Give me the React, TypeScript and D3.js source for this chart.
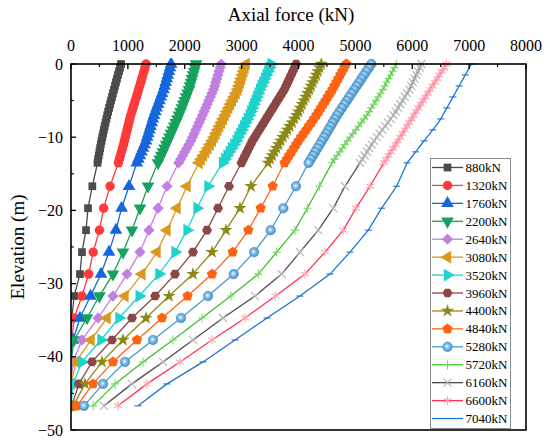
import React, { useRef, useEffect } from "react";
import * as d3 from "d3";

// legend labels (applied load at pile head)
const loadLabels = [
  "880kN", "1320kN", "1760kN", "2200kN", "2640kN", "3080kN", "3520kN", "3960kN",
  "4400kN", "4840kN", "5280kN", "5720kN", "6160kN", "6600kN", "7040kN",
];

const xTicks = [0, 1000, 2000, 3000, 4000, 5000, 6000, 7000, 8000];
const yTicks = [0, -10, -20, -30, -40, -50];

// elevations (m): dense nodes near the head, then every 3 m
const denseDepth = [
  0, -0.5, -1, -1.5, -2, -2.5, -3, -3.5, -4, -4.5, -5, -5.5, -6, -6.5,
  -7, -7.5, -8, -8.5, -9, -9.5, -10, -10.5, -11, -11.5, -12, -12.5, -13, -13.5,
];
const sparseDepth = [-16.7, -19.7, -22.7, -25.7, -28.7, -31.7, -34.7, -37.7, -40.7, -43.7, -46.7];

// axial force (kN) at each elevation, dense part then sparse part
const f880 = [
  880, 862, 844, 826, 808, 790, 773, 756, 738, 721, 704, 687, 670, 653,
  637, 622, 607, 592, 578, 564, 550, 537, 524, 512, 500, 488, 477, 466,
  375, 299, 264, 193, 158, 55, 15, 0, 0, 0, 0,
];
const f1320 = [
  1320, 1301, 1283, 1264, 1245, 1227, 1208, 1189, 1170, 1150, 1130, 1110, 1090, 1070,
  1050, 1034, 1018, 1002, 986, 970, 955, 940, 923, 905, 887, 869, 851, 833,
  686, 575, 500, 390, 310, 193, 55, 15, 0, 0, 0,
];
const f1760 = [
  1760, 1741, 1722, 1703, 1684, 1665, 1646, 1627, 1603, 1579, 1555, 1531, 1507, 1483,
  1459, 1439, 1419, 1399, 1379, 1359, 1339, 1319, 1292, 1265, 1238, 1211, 1184, 1157,
  1020, 890, 790, 668, 527, 343, 158, 35, 0, 0, 0,
];
const f2200 = [
  2200, 2182, 2164, 2146, 2128, 2110, 2092, 2074, 2049, 2024, 1999, 1974, 1949, 1924,
  1899, 1871, 1843, 1815, 1787, 1759, 1731, 1703, 1674, 1645, 1616, 1587, 1558, 1529,
  1354, 1213, 1072, 914, 738, 500, 281, 53, 0, 0, 0,
];
const f2640 = [
  2640, 2621, 2602, 2583, 2564, 2545, 2526, 2507, 2479, 2451, 2423, 2395, 2367, 2339,
  2311, 2282, 2253, 2224, 2195, 2166, 2137, 2108, 2072, 2036, 2000, 1964, 1928, 1892,
  1688, 1530, 1371, 1213, 985, 738, 475, 193, 35, 0, 0,
];
const f3080 = [
  3080, 3059, 3038, 3017, 2996, 2975, 2954, 2933, 2901, 2869, 2837, 2805, 2773, 2741,
  2709, 2677, 2645, 2613, 2581, 2549, 2517, 2485, 2446, 2407, 2368, 2329, 2290, 2251,
  2040, 1864, 1688, 1512, 1248, 949, 633, 352, 88, 0, 0,
];
const f3520 = [
  3520, 3491, 3462, 3433, 3404, 3375, 3346, 3317, 3291, 3265, 3239, 3213, 3187, 3161,
  3135, 3102, 3069, 3036, 3003, 2970, 2937, 2904, 2864, 2824, 2784, 2744, 2704, 2664,
  2409, 2215, 2040, 1829, 1547, 1200, 844, 527, 193, 35, 0,
];
const f3960 = [
  3960, 3930, 3900, 3870, 3840, 3810, 3780, 3750, 3710, 3670, 3630, 3590, 3550, 3510,
  3470, 3430, 3390, 3350, 3310, 3270, 3230, 3190, 3158, 3126, 3094, 3062, 3030, 2998,
  2778, 2585, 2391, 2145, 1829, 1480, 1072, 721, 369, 141, 10,
];
const f4400 = [
  4400, 4370, 4340, 4310, 4280, 4250, 4220, 4190, 4158, 4126, 4094, 4062, 4030, 3998,
  3966, 3926, 3886, 3846, 3806, 3766, 3726, 3686, 3649, 3612, 3575, 3538, 3501, 3464,
  3165, 2971, 2725, 2479, 2145, 1723, 1319, 914, 545, 246, 40,
];
const f4840 = [
  4840, 4805, 4770, 4735, 4700, 4665, 4630, 4595, 4555, 4515, 4475, 4435, 4395, 4355,
  4315, 4270, 4225, 4180, 4135, 4090, 4045, 4000, 3959, 3918, 3877, 3836, 3795, 3754,
  3546, 3335, 3118, 2843, 2479, 2050, 1600, 1160, 738, 387, 105,
];
const f5280 = [
  5280, 5237, 5194, 5151, 5108, 5065, 5022, 4979, 4936, 4893, 4850, 4807, 4764, 4721,
  4678, 4640, 4602, 4564, 4526, 4488, 4450, 4412, 4373, 4334, 4295, 4256, 4217, 4178,
  3956, 3733, 3511, 3218, 2860, 2409, 1934, 1442, 949, 563, 228,
];
const f5720 = [
  5720, 5686, 5652, 5618, 5584, 5550, 5516, 5482, 5442, 5402, 5362, 5322, 5282, 5242,
  5202, 5153, 5104, 5055, 5006, 4957, 4908, 4859, 4814, 4769, 4724, 4679, 4634, 4589,
  4366, 4155, 3938, 3617, 3293, 2810, 2303, 1793, 1266, 774, 387,
];
const f6160 = [
  6160, 6130, 6100, 6070, 6040, 6010, 5980, 5950, 5910, 5870, 5830, 5790, 5750, 5710,
  5670, 5621, 5572, 5523, 5474, 5425, 5376, 5327, 5286, 5245, 5204, 5163, 5122, 5081,
  4818, 4612, 4348, 4026, 3704, 3235, 2672, 2145, 1617, 1072, 580,
];
const f6600 = [
  6600, 6559, 6518, 6477, 6436, 6395, 6354, 6313, 6272, 6231, 6190, 6149, 6108, 6067,
  6026, 5986, 5946, 5906, 5866, 5826, 5786, 5746, 5705, 5664, 5623, 5582, 5541, 5500,
  5257, 5011, 4788, 4466, 4114, 3595, 3059, 2479, 1916, 1336, 826,
];
const f7040 = [
  7040, 7004, 6968, 6932, 6896, 6860, 6824, 6788, 6752, 6716, 6680, 6644, 6608, 6572,
  6536, 6500, 6460, 6410, 6360, 6310, 6260, 6210, 6160, 6110, 6060, 6010, 5960, 5910,
  5726, 5462, 5228, 4905, 4554, 4026, 3446, 2884, 2321, 1688, 1178,
];

const seriesForces = [
  f880, f1320, f1760, f2200, f2640, f3080, f3520, f3960,
  f4400, f4840, f5280, f5720, f6160, f6600, f7040,
];

// Origin-like colours and marker shapes
const styles = [
  { line: "#4b4b4b", mark: "#4b4b4b", shape: "square" },
  { line: "#ff3a3a", mark: "#ff3a3a", shape: "circle" },
  { line: "#1666dc", mark: "#1666dc", shape: "triUp" },
  { line: "#16a15e", mark: "#16a15e", shape: "triDown" },
  { line: "#c27fe2", mark: "#c27fe2", shape: "diamond" },
  { line: "#d8991c", mark: "#d8991c", shape: "triLeft" },
  { line: "#1fd2cc", mark: "#1fd2cc", shape: "triRight" },
  { line: "#8b4747", mark: "#8b4747", shape: "hexagon" },
  { line: "#8c8a16", mark: "#8c8a16", shape: "star" },
  { line: "#ff6414", mark: "#ff6414", shape: "pentagon" },
  { line: "#4899d2", mark: "#4899d2", shape: "sphere" },
  { line: "#3ec02a", mark: "#7ad86a", shape: "plus" },
  { line: "#4b4b4b", mark: "#b4b4b4", shape: "times" },
  { line: "#ff3450", mark: "#ffa4b4", shape: "asterisk" },
  { line: "#1a76d2", mark: "#1a76d2", shape: "dash" },
];

function polygon(n: number, r: number, rot: number) {
  const pts = d3.range(n).map((i) => {
    const a = rot + (i * 2 * Math.PI) / n;
    return [r * Math.sin(a), -r * Math.cos(a)];
  });
  return "M" + pts.map((p) => p[0].toFixed(2) + "," + p[1].toFixed(2)).join("L") + "Z";
}

function markerPath(shape: string): { d: string; stroke: boolean; rotate: number } {
  switch (shape) {
    case "square":
      return { d: d3.symbol(d3.symbolSquare, 60)()!, stroke: false, rotate: 0 };
    case "circle":
      return { d: d3.symbol(d3.symbolCircle, 70)()!, stroke: false, rotate: 0 };
    case "triUp":
      return { d: d3.symbol(d3.symbolTriangle, 70)()!, stroke: false, rotate: 0 };
    case "triDown":
      return { d: d3.symbol(d3.symbolTriangle, 70)()!, stroke: false, rotate: 180 };
    case "triLeft":
      return { d: d3.symbol(d3.symbolTriangle, 70)()!, stroke: false, rotate: -90 };
    case "triRight":
      return { d: d3.symbol(d3.symbolTriangle, 70)()!, stroke: false, rotate: 90 };
    case "diamond":
      return { d: polygon(4, 5.6, 0), stroke: false, rotate: 0 };
    case "hexagon":
      return { d: polygon(6, 5, Math.PI / 6), stroke: false, rotate: 0 };
    case "pentagon":
      return { d: polygon(5, 5.4, 0), stroke: false, rotate: 0 };
    case "star":
      return { d: d3.symbol(d3.symbolStar, 55)()!, stroke: false, rotate: 0 };
    case "sphere":
      return { d: d3.symbol(d3.symbolCircle, 70)()!, stroke: false, rotate: 0 };
    case "plus":
      return { d: "M-4,0H4M0,-4.5V4.5", stroke: true, rotate: 0 };
    case "times":
      return { d: "M-4,-4L4,4M-4,4L4,-4", stroke: true, rotate: 0 };
    case "asterisk":
      return { d: "M0,-4.5V4.5M-3.9,-2.25L3.9,2.25M-3.9,2.25L3.9,-2.25", stroke: true, rotate: 0 };
    default:
      return { d: "M-3.5,0H3.5", stroke: true, rotate: 0 };
  }
}

export default function App() {
  const ref = useRef<SVGSVGElement | null>(null);

  useEffect(() => {
    const width = 550;
    const height = 442;
    const plot = { left: 71, right: 526, top: 64, bottom: 430 };
    const font = "'Liberation Serif', 'Times New Roman', serif";

    const svg = d3.select(ref.current);
    svg.selectAll("*").remove();
    svg.attr("width", width).attr("height", height).style("background", "#fff");

    const defs = svg.append("defs");
    const grad = defs
      .append("radialGradient")
      .attr("id", "sphereGrad")
      .attr("cx", "45%")
      .attr("cy", "45%")
      .attr("r", "60%");
    grad.append("stop").attr("offset", "0%").attr("stop-color", "#ffffff");
    grad.append("stop").attr("offset", "35%").attr("stop-color", "#8cc4ea");
    grad.append("stop").attr("offset", "100%").attr("stop-color", "#3a88c4");

    const x = d3.scaleLinear().domain([0, 8000]).range([plot.left, plot.right]);
    const y = d3.scaleLinear().domain([0, -50]).range([plot.top, plot.bottom]);

    const depths = denseDepth.concat(sparseDepth);
    const line = d3
      .line<[number, number]>()
      .x((d) => x(d[0]))
      .y((d) => y(d[1]));

    const g = svg.append("g");

    // clip to plot area
    defs
      .append("clipPath")
      .attr("id", "plotClip")
      .append("rect")
      .attr("x", plot.left)
      .attr("y", plot.top - 6)
      .attr("width", plot.right - plot.left)
      .attr("height", plot.bottom - plot.top + 6);

    const curves = g.append("g").attr("clip-path", "url(#plotClip)");

    seriesForces.forEach((forces, i) => {
      const st = styles[i];
      const pts: [number, number][] = forces.map((f, j) => [f, depths[j]]);
      const sg = curves.append("g");
      sg.append("path")
        .attr("d", line(pts)!)
        .attr("fill", "none")
        .attr("stroke", st.line)
        .attr("stroke-width", 1.3);
      const m = markerPath(st.shape);
      const shown = st.shape === "dash" ? pts.filter((_, j) => j >= 28 || j % 3 === 0) : pts;
      sg.selectAll("path.mk")
        .data(shown)
        .join("path")
        .attr("class", "mk")
        .attr("d", m.d)
        .attr("transform", (d) => `translate(${x(d[0])},${y(d[1])}) rotate(${m.rotate})`)
        .attr("fill", m.stroke ? "none" : st.shape === "sphere" ? "url(#sphereGrad)" : st.mark)
        .attr("stroke", m.stroke ? st.mark : st.shape === "sphere" ? "#3a88c4" : "none")
        .attr("stroke-width", m.stroke ? 1.1 : 0.6);
    });

    // frame
    g.append("rect")
      .attr("x", plot.left)
      .attr("y", plot.top)
      .attr("width", plot.right - plot.left)
      .attr("height", plot.bottom - plot.top)
      .attr("fill", "none")
      .attr("stroke", "#000")
      .attr("stroke-width", 1.6);

    // top axis ticks (inward)
    xTicks.forEach((t) => {
      g.append("line")
        .attr("x1", x(t)).attr("x2", x(t))
        .attr("y1", plot.top).attr("y2", plot.top + 5)
        .attr("stroke", "#000").attr("stroke-width", 1.3);
      if (t < 8000) {
        g.append("line")
          .attr("x1", x(t + 500)).attr("x2", x(t + 500))
          .attr("y1", plot.top).attr("y2", plot.top + 3)
          .attr("stroke", "#000").attr("stroke-width", 1.1);
      }
      g.append("text")
        .attr("x", x(t))
        .attr("y", 51)
        .attr("text-anchor", "middle")
        .attr("font-family", font)
        .attr("font-size", 16)
        .text(String(t));
    });

    // left axis ticks (inward)
    yTicks.forEach((t) => {
      g.append("line")
        .attr("x1", plot.left).attr("x2", plot.left + 5)
        .attr("y1", y(t)).attr("y2", y(t))
        .attr("stroke", "#000").attr("stroke-width", 1.3);
      if (t > -50) {
        g.append("line")
          .attr("x1", plot.left).attr("x2", plot.left + 3)
          .attr("y1", y(t - 5)).attr("y2", y(t - 5))
          .attr("stroke", "#000").attr("stroke-width", 1.1);
      }
      g.append("text")
        .attr("x", 63)
        .attr("y", y(t))
        .attr("dy", "0.35em")
        .attr("text-anchor", "end")
        .attr("font-family", font)
        .attr("font-size", 16)
        .text(d3.format("d")(t));
    });

    // axis titles
    g.append("text")
      .attr("x", 291)
      .attr("y", 21)
      .attr("text-anchor", "middle")
      .attr("font-family", font)
      .attr("font-size", 19)
      .text("Axial force (kN)");

    g.append("text")
      .attr("transform", `translate(24,${(plot.top + plot.bottom) / 2}) rotate(-90)`)
      .attr("text-anchor", "middle")
      .attr("font-family", font)
      .attr("font-size", 19)
      .text("Elevation (m)");

    // legend
    const lg = g.append("g");
    lg.append("rect")
      .attr("x", 430.5)
      .attr("y", 158.5)
      .attr("width", 80)
      .attr("height", 270)
      .attr("fill", "#fff")
      .attr("stroke", "#8a8a8a")
      .attr("stroke-width", 1);

    loadLabels.forEach((lab, i) => {
      const st = styles[i];
      const ly = 167.5 + i * 17.93;
      lg.append("line")
        .attr("x1", 432).attr("x2", 463)
        .attr("y1", ly).attr("y2", ly)
        .attr("stroke", st.line).attr("stroke-width", 1.3);
      const m = markerPath(st.shape);
      lg.append("path")
        .attr("d", m.d)
        .attr("transform", `translate(447.5,${ly}) rotate(${m.rotate})`)
        .attr("fill", m.stroke ? "none" : st.shape === "sphere" ? "url(#sphereGrad)" : st.mark)
        .attr("stroke", m.stroke ? st.mark : st.shape === "sphere" ? "#3a88c4" : "none")
        .attr("stroke-width", m.stroke ? 1.1 : 0.6);
      lg.append("text")
        .attr("x", 465.5)
        .attr("y", ly)
        .attr("dy", "0.35em")
        .attr("font-family", font)
        .attr("font-size", 13)
        .text(lab);
    });
  }, []);

  return (
    <svg
      ref={ref}
      width={550}
      height={442}
      style={{ position: "absolute", left: 0, top: 0 }}
    ></svg>
  );
}
